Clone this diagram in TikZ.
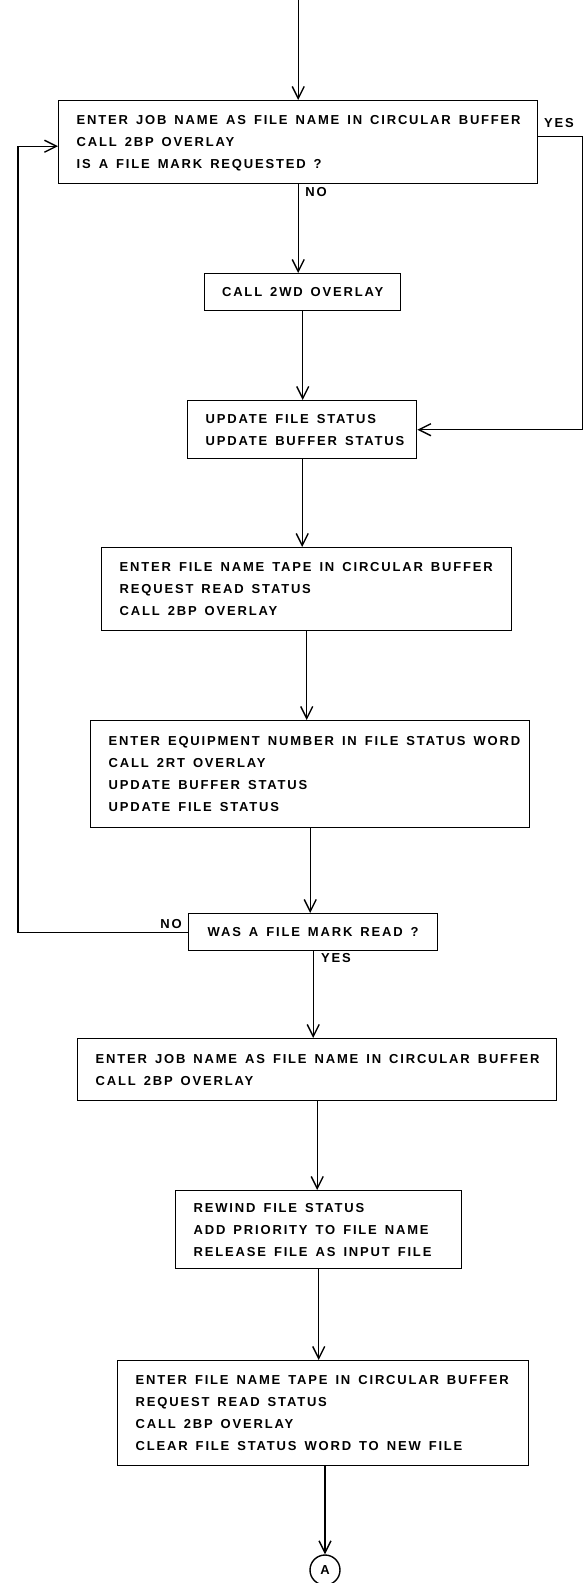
\documentclass[tikz,border=0pt]{standalone}
\usepackage{fontspec}
\newfontfamily\leroy[LetterSpace=14]{Liberation Sans}
\newcommand\flowfont{\leroy\bfseries\fontsize{13}{22}\selectfont\spaceskip 8pt\relax}
% box text: one line per row, set flush left
\newcommand\steps[1]{{\spaceskip 8pt\relax\begin{tabular}{@{}l@{}}#1\end{tabular}}}
\usepackage{tikz}
\usetikzlibrary{arrows.meta}

\begin{document}
\begin{tikzpicture}[x=1pt,y=-1pt,
  line width=1.4pt,
  every node/.style={font=\flowfont},
  box/.style={draw,rectangle,anchor=north west,inner xsep=18pt,inner ysep=0pt},
  cbox/.style={draw,rectangle,anchor=north west,inner sep=0pt,align=center},
  flow/.style={-{Straight Barb[length=12pt,width=12pt]}},
  tag/.style={inner sep=0pt}]
\useasboundingbox (0,0) rectangle (583,1583);
%process boxes, top to bottom
\node[box,text width=443pt,minimum height=83pt] (job) at (58,100)
  {\steps{ENTER JOB NAME AS FILE NAME IN CIRCULAR BUFFER\\CALL 2BP OVERLAY\\IS A FILE MARK REQUESTED ?}};
\node[cbox,minimum width=196pt,minimum height=37pt] (wd) at (204,273) {CALL 2WD OVERLAY};
\node[box,text width=193pt,minimum height=58pt] (upd) at (187,400)
  {\steps{UPDATE FILE STATUS\\UPDATE BUFFER STATUS}};
\node[box,text width=374pt,minimum height=83pt] (tape) at (101,547)
  {\steps{ENTER FILE NAME TAPE IN CIRCULAR BUFFER\\REQUEST READ STATUS\\CALL 2BP OVERLAY}};
\node[box,text width=403pt,minimum height=107pt] (equip) at (90,720)
  {\steps{ENTER EQUIPMENT NUMBER IN FILE STATUS WORD\\CALL 2RT OVERLAY\\UPDATE BUFFER STATUS\\UPDATE FILE STATUS}};
\node[cbox,minimum width=249pt,minimum height=37pt] (mark) at (188,913) {WAS A FILE MARK READ ?};
\node[box,text width=443pt,minimum height=62pt] (job2) at (77,1038)
  {\steps{ENTER JOB NAME AS FILE NAME IN CIRCULAR BUFFER\\CALL 2BP OVERLAY}};
\node[box,text width=250pt,minimum height=78pt] (rew) at (175,1190)
  {\steps{REWIND FILE STATUS\\ADD PRIORITY TO FILE NAME\\RELEASE FILE AS INPUT FILE}};
\node[box,text width=375pt,minimum height=105pt] (clear) at (117,1360)
  {\steps{ENTER FILE NAME TAPE IN CIRCULAR BUFFER\\REQUEST READ STATUS\\CALL 2BP OVERLAY\\CLEAR FILE STATUS WORD TO NEW FILE}};
\node[draw,circle,inner sep=0pt,minimum size=30pt] (conA) at (325,1570) {A};
%branch labels
\node[tag] (noA) at (316,192) {NO};
\node[tag] (yesA) at (559,123) {YES};
\node[tag] (noB) at (171,924) {NO};
\node[tag] (yesB) at (336,958) {YES};
%main line
\coordinate (top) at ([yshift=100pt]job.north);
\draw[flow] (top) -- (job.north);
\draw[flow] (job.south) -- (job.south |- wd.north);
\draw[flow] (wd.south) -- (wd.south |- upd.north);
\draw[flow] (upd.south) -- (upd.south |- tape.north);
\draw[flow] (tape.south) -- (tape.south |- equip.north);
\draw[flow] (equip.south) -- (equip.south |- mark.north);
\draw[flow] (mark.south) -- (mark.south |- job2.north);
\draw[flow] (job2.south) -- (job2.south |- rew.north);
\draw[flow] (rew.south) -- (rew.south |- clear.north);
\draw[flow] (clear.south -| conA) -- (conA);
%loops
\draw[flow] ([yshift=6pt]job.east) -- ++(44,0) |- (upd.east);
\draw[flow] (mark.west) -- ++(-170,0) |- ([yshift=-4pt]job.west);
\end{tikzpicture}
\end{document}
